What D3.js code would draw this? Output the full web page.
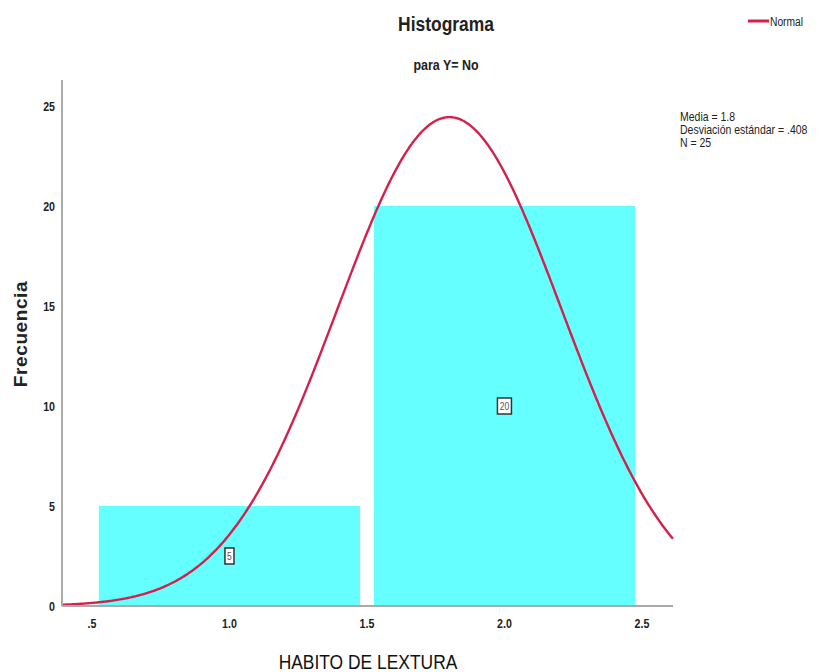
<!DOCTYPE html>
<html><head><meta charset="utf-8">
<script src="https://cdn.jsdelivr.net/npm/d3@7"></script>
<style>
body{margin:0;background:#fff}
text{font-family:"Liberation Sans",Arial,sans-serif}
</style></head>
<body><svg id="c" width="822" height="672"></svg>
<script>
const binCenters = [1.0, 2.0];
const binCounts = [5, 20];
const xTicks = [0.5, 1.0, 1.5, 2.0, 2.5];
const xTickLabels = [".5", "1.0", "1.5", "2.0", "2.5"];
const yTicks = [0, 5, 10, 15, 20, 25];
const statLines = ["Media = 1.8", "Desviación estándar = .408", "N = 25"];
const mean = 1.8, sd = 0.408, N = 25, binWidth = 1;

const svg = d3.select("#c");
const x = d3.scaleLinear().domain([0.391, 2.613]).range([62, 673]);
const y = d3.scaleLinear().domain([0, 26.3]).range([606, 80]);

// narrow text helper (condensed look)
function ntext(px, py, str, size, opts = {}) {
  const g = svg.append("g").attr("transform", `translate(${px},${py}) scale(${opts.sx || 0.82},1)`);
  return g.append("text").attr("font-size", size)
    .attr("font-weight", opts.bold ? "bold" : "normal")
    .attr("text-anchor", opts.anchor || "start")
    .attr("fill", opts.fill || "#222").text(str);
}

// bars
const inset = 0.025;
svg.selectAll("rect.bar").data(binCenters).enter().append("rect")
  .attr("x", d => x(d - binWidth/2 + inset))
  .attr("width", d => x(d + binWidth/2 - inset) - x(d - binWidth/2 + inset))
  .attr("y", (d,i) => y(binCounts[i]))
  .attr("height", (d,i) => y(0) - y(binCounts[i]))
  .attr("fill", "#66ffff");

// normal curve
const xs = d3.range(0, 401).map(i => 0.391 + (2.613 - 0.391) * i / 400);
const dens = v => N * binWidth / (sd * Math.sqrt(2*Math.PI)) * Math.exp(-0.5 * Math.pow((v - mean)/sd, 2));
svg.append("path").datum(xs)
  .attr("d", d3.line().x(d => x(d)).y(d => y(dens(d))).curve(d3.curveBasis))
  .attr("fill", "none").attr("stroke", "#d4204c").attr("stroke-width", 2.4);

// bar labels
binCenters.forEach((c, i) => {
  const g = svg.append("g").attr("transform", `translate(${x(c)},${y(binCounts[i]/2)})`);
  const t = String(binCounts[i]);
  const w = t.length * 5 + 4;
  g.append("rect").attr("x", -w/2).attr("y", -8).attr("width", w).attr("height", 16)
    .attr("fill", "#fff").attr("stroke", "#333").attr("stroke-width", 1.5);
  g.append("g").attr("transform", "scale(0.85,1)").append("text")
    .attr("text-anchor", "middle").attr("y", 4).attr("font-size", 10)
    .attr("fill", "#555").text(t);
});

// axes
svg.append("line").attr("x1", 62).attr("x2", 62).attr("y1", 80).attr("y2", 606)
  .attr("stroke", "#aaa").attr("stroke-width", 2);
svg.append("line").attr("x1", 62).attr("x2", 673).attr("y1", 606).attr("y2", 606)
  .attr("stroke", "#aaa").attr("stroke-width", 2);

yTicks.forEach(d => ntext(55, y(d) + 5, d, 13, {bold: true, anchor: "end"}));
xTicks.forEach((d, i) => ntext(x(d), 628, xTickLabels[i], 13, {bold: true, anchor: "middle"}));

// titles
ntext(446, 31, "Histograma", 21, {bold: true, anchor: "middle", sx: 0.83});
ntext(446, 70, "para Y= No", 15, {bold: true, anchor: "middle", sx: 0.83});

svg.append("text").attr("transform", "translate(27,334) rotate(-90)").attr("text-anchor", "middle")
  .attr("font-size", 19).attr("font-weight", "bold").attr("letter-spacing", 0.6)
  .attr("fill", "#222").text("Frecuencia");
ntext(368, 669, "HABITO DE LEXTURA", 21, {anchor: "middle", fill: "#111", sx: 0.83});

// legend
svg.append("line").attr("x1", 748).attr("x2", 769).attr("y1", 21).attr("y2", 21)
  .attr("stroke", "#d4204c").attr("stroke-width", 3);
ntext(770, 26, "Normal", 12.5);

statLines.forEach((d, i) => ntext(680, 121 + i*13, d, 12.5, {sx: 0.84}));
</script></body></html>
